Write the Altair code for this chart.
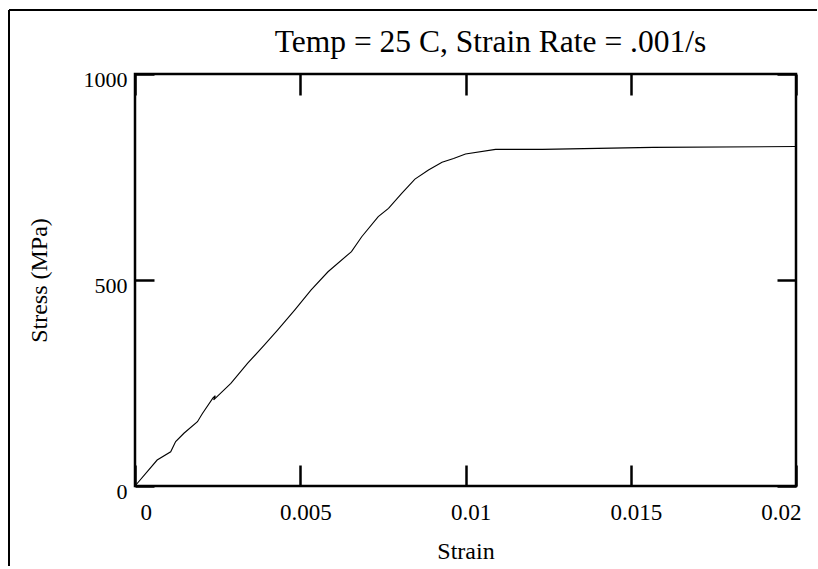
import altair as alt
import pandas as pd

# Data
strain = [0.0, 0.00067, 0.00108, 0.00123, 0.00148, 0.00189, 0.00204, 0.00236,
          0.00243, 0.00238, 0.00290, 0.00341, 0.00391, 0.00432, 0.00483,
          0.00533, 0.00584, 0.00655, 0.00686, 0.00736, 0.00767, 0.00807,
          0.00847, 0.00888, 0.00929, 0.00964, 0.01000, 0.01091, 0.01233,
          0.01567, 0.02000]
stress = [0, 63, 83, 108, 128, 156, 176, 214,
          219, 209, 249, 298, 342, 379, 427,
          476, 520, 569, 605, 654, 674, 710,
          745, 767, 786, 795, 806, 817, 817,
          822, 824]
x_ticks = [0, 0.005, 0.01, 0.015, 0.02]
y_ticks = [0, 500, 1000]

title_text = "Temp = 25 C, Strain Rate = .001/s"
x_title = "Strain"
y_title = "Stress (MPa)"

FONT = "Liberation Serif"

df = pd.DataFrame({"strain": strain, "stress": stress, "idx": list(range(len(strain)))})
one = pd.DataFrame({"label": [title_text]})

xscale = alt.Scale(domain=[0, 0.02], nice=False, zero=False)
yscale = alt.Scale(domain=[0, 1000], nice=False)

common = dict(grid=False, domain=False, tickColor="black", tickWidth=2.5,
              labelFont=FONT, labelColor="black", titleFont=FONT,
              titleColor="black", titleFontWeight="normal")

main = alt.Chart(df).mark_line(color="black", strokeWidth=1.1).encode(
    x=alt.X("strain:Q", scale=xscale,
            axis=alt.Axis(orient="bottom", values=x_ticks, format="~g",
                          tickSize=21, offset=-21, labelPadding=15,
                          labelFontSize=23, labelOffset=5, labelFlush=True,
                          title=x_title, titleFontSize=24, titlePadding=15,
                          **common)),
    y=alt.Y("stress:Q", scale=yscale,
            axis=alt.Axis(orient="left", values=y_ticks, format="d",
                          tickSize=19, offset=-19, labelPadding=8,
                          labelFontSize=22, labelOffset=5, labelFlush=False,
                          title=y_title, titleFontSize=24, titlePadding=32,
                          **common)),
    order="idx:Q",
)

ghost = alt.Chart(df).mark_line(strokeOpacity=0).encode(
    x=alt.X("strain:Q", scale=xscale,
            axis=alt.Axis(orient="top", values=x_ticks, labels=False,
                          tickSize=21, offset=-21, title=None, **common)),
    y=alt.Y("stress:Q", scale=yscale,
            axis=alt.Axis(orient="right", values=y_ticks, labels=False,
                          tickSize=19, offset=-19, title=None, **common)),
    order="idx:Q",
)

frame_left = alt.Chart(one).mark_rule(color="black", strokeWidth=2).encode(
    x=alt.value(-126), y=alt.value(-64), y2=alt.value(492))
frame_top = alt.Chart(one).mark_rule(color="black", strokeWidth=2).encode(
    y=alt.value(-64), x=alt.value(-126), x2=alt.value(682))

title = alt.Chart(one).mark_text(
    font=FONT, fontSize=31.5, color="black", align="center", baseline="alphabetic"
).encode(text="label:N", x=alt.value(355.5), y=alt.value(-22))

chart = alt.layer(main, ghost, frame_left, frame_top, title).resolve_axis(
    x="independent", y="independent"
).properties(
    width=661, height=412,
    padding={"left": 8, "top": 9, "right": 0, "bottom": 0},
    background="white",
).configure_view(stroke="black", strokeWidth=2.5)

chart.save("out.html", embed_options={"renderer": "svg", "actions": False})
